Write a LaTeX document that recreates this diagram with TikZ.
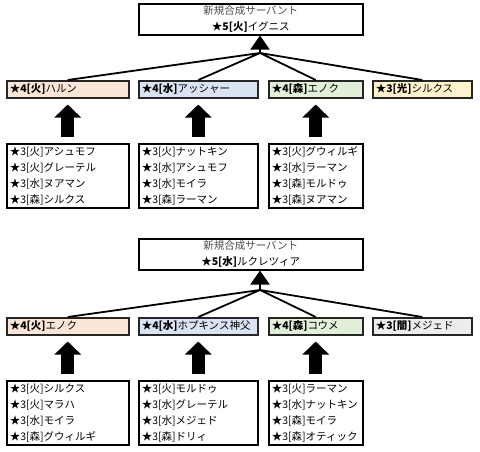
\documentclass[tikz,border=0pt]{standalone}
\usepackage{fontspec}
\setmainfont{Noto Sans CJK JP}
\usetikzlibrary{arrows.meta}
\definecolor{fire}{HTML}{FBE5D6}
\definecolor{water}{HTML}{DAE3F3}
\definecolor{forest}{HTML}{E2F0D9}
\definecolor{shine}{HTML}{FFF2CC}
\definecolor{shade}{HTML}{EDEDED}
\tikzstyle{result}=[draw, line width=1.5pt, minimum width=224pt, minimum height=31pt, inner sep=0pt, align=center, anchor=north west, font=\fontsize{10.5}{16}\selectfont]
\tikzstyle{parent}=[draw=black!85, line width=1.5pt, inner xsep=3pt, inner ysep=0pt, minimum height=17pt, anchor=north west, font=\fontsize{10.5}{11}\selectfont]
\tikzstyle{material}=[draw, line width=1.5pt, inner xsep=3pt, inner ysep=0pt, minimum height=64pt, align=left, anchor=north west, font=\fontsize{10.5}{16}\selectfont]
\tikzstyle{branch}=[line width=1.8pt]
\tikzstyle{fat}=[line width=13pt, -{Triangle[width=26pt,length=13pt]}, shorten <=6pt, shorten >=6pt]
\newcommand{\rk}[1]{\textbf{#1}}

\begin{document}
\begin{tikzpicture}[x=1pt, y=-1pt]
    \useasboundingbox (0,0) rectangle (480,451);
    % first servant
    \node[result] (t1) at (138,3) {\textcolor{black!70}{新規合成サーバント}\\\rk{★5[火]}イグニス};
    \node[parent, fill=fire, text width=116pt] (p11) at (6,80) {\rk{★4[火]}ハルン};
    \node[parent, fill=water, text width=113pt] (p12) at (138,80) {\rk{★4[水]}アッシャー};
    \node[parent, fill=forest, text width=88pt] (p13) at (268,80) {\rk{★4[森]}エノク};
    \node[parent, fill=shine, text width=93pt] (p14) at (372,80) {\rk{★3[光]}シルクス};
    \node[material, text width=116pt] (m11) at (6,143) {★3[火]アシュモフ\\★3[火]グレーテル\\★3[水]ヌアマン\\★3[森]シルクス};
    \node[material, text width=113pt] (m12) at (138,143) {★3[火]ナットキン\\★3[水]アシュモフ\\★3[水]モイラ\\★3[森]ラーマン};
    \node[material, text width=88pt] (m13) at (268,143) {★3[火]グウィルギ\\★3[水]ラーマン\\★3[森]モルドゥ\\★3[森]ヌアマン};
    \coordinate (j1) at (260,53);
    \draw[branch] (p11.north) -- (j1) (p12.north) -- (j1) (p13.north) -- (j1) (p14.north) -- (j1);
    \draw[branch, -{Triangle[width=19pt,length=14pt]}] (j1) -- (j1 |- t1.south);
    \draw[fat] (m11.north) -- (p11.south);
    \draw[fat] (m12.north) -- (p12.south);
    \draw[fat] (m13.north) -- (p13.south);

    % second servant
    \node[result] (t2) at (138,238) {\textcolor{black!70}{新規合成サーバント}\\\rk{★5[水]}ルクレツィア};
    \node[parent, fill=fire, text width=116pt] (p21) at (6,317) {\rk{★4[火]}エノク};
    \node[parent, fill=water, text width=113pt] (p22) at (138,317) {\rk{★4[水]}ホプキンス神父};
    \node[parent, fill=forest, text width=88pt] (p23) at (268,317) {\rk{★4[森]}コウメ};
    \node[parent, fill=shade, text width=93pt] (p24) at (372,317) {\rk{★3[闇]}メジェド};
    \node[material, text width=116pt] (m21) at (6,380) {★3[火]シルクス\\★3[火]マラハ\\★3[水]モイラ\\★3[森]グウィルギ};
    \node[material, text width=113pt] (m22) at (138,380) {★3[火]モルドゥ\\★3[水]グレーテル\\★3[水]メジェド\\★3[森]ドリィ};
    \node[material, text width=88pt] (m23) at (268,380) {★3[火]ラーマン\\★3[水]ナットキン\\★3[森]モイラ\\★3[森]オティック};
    \coordinate (j2) at (260,290);
    \draw[branch] (p21.north) -- (j2) (p22.north) -- (j2) (p23.north) -- (j2) (p24.north) -- (j2);
    \draw[branch, -{Triangle[width=19pt,length=14pt]}] (j2) -- (j2 |- t2.south);
    \draw[fat] (m21.north) -- (p21.south);
    \draw[fat] (m22.north) -- (p22.south);
    \draw[fat] (m23.north) -- (p23.south);
\end{tikzpicture}
\end{document}
